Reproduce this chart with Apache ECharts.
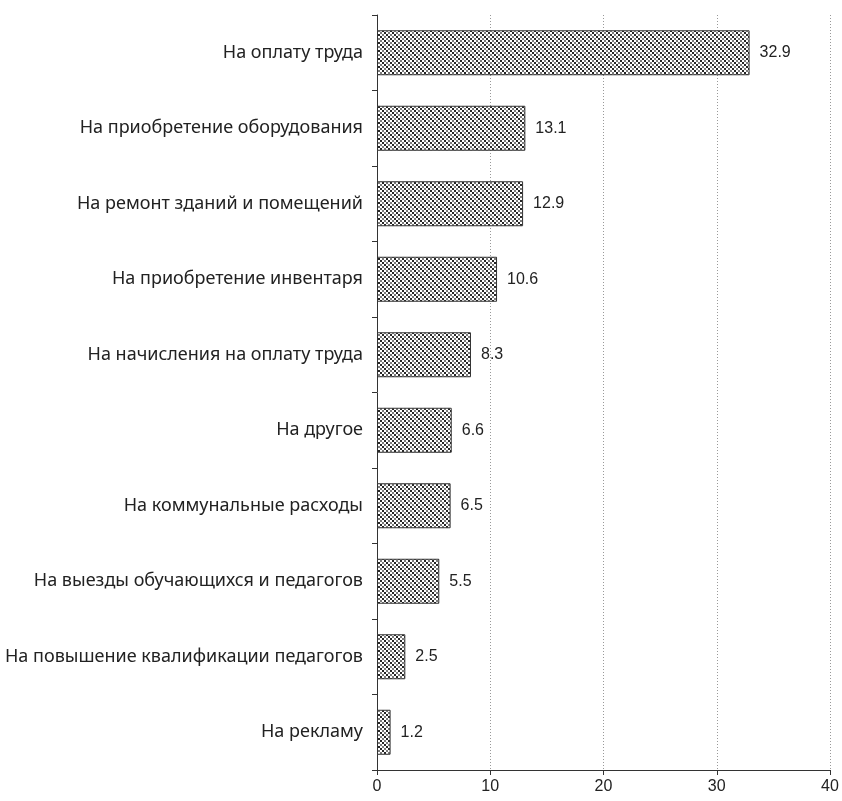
<!DOCTYPE html>
<html><head><meta charset="utf-8">
<script src="https://cdn.jsdelivr.net/npm/echarts@6/dist/echarts.min.js"></script>
<style>html,body{margin:0;padding:0;background:#fff}#c{width:842px;height:801px}</style>
</head><body><div id="c"></div>
<script>
const categories = [
  "На оплату труда",
  "На приобретение оборудования",
  "На ремонт зданий и помещений",
  "На приобретение инвентаря",
  "На начисления на оплату труда",
  "На другое",
  "На коммунальные расходы",
  "На выезды обучающихся и педагогов",
  "На повышение квалификации педагогов",
  "На рекламу"
];
const values = [32.9, 13.1, 12.9, 10.6, 8.3, 6.6, 6.5, 5.5, 2.5, 1.2];
const xTicks = [0, 10, 20, 30, 40];

function makePattern() {
  const c = document.createElement('canvas');
  c.width = 8; c.height = 8;
  const g = c.getContext('2d');
  g.fillStyle = '#ffffff'; g.fillRect(0, 0, 8, 8);
  const pts = [[0,0],[4,0],[0,4],[4,4],[2,2],[6,2],[2,6],[6,6]];
  g.fillStyle = '#7a7a7a';
  pts.forEach(p => g.fillRect(p[0], p[1], 2, 2));
  g.fillStyle = '#262626';
  [[0,0],[2,2],[4,4],[6,6]].forEach(p => g.fillRect(p[0], p[1], 2, 2));
  return c;
}

const chart = echarts.init(document.getElementById('c'), null, {renderer: 'canvas'});
chart.setOption({
  animation: false,
  backgroundColor: '#fff',
  grid: {left: 377, right: 12, top: 15, bottom: 31, containLabel: false},
  xAxis: {
    type: 'value', min: 0, max: 40, interval: 10,
    axisLine: {show: true, lineStyle: {color: '#333', width: 1}},
    axisTick: {show: true, length: 5, lineStyle: {color: '#333'}},
    axisLabel: {color: '#222', fontSize: 16, fontFamily: 'Liberation Sans Narrow, Liberation Sans, Arial', margin: 9,
      formatter: v => xTicks.includes(v) ? String(v) : ''},
    splitLine: {show: true, lineStyle: {color: '#999', type: [1, 2], width: 1}}
  },
  yAxis: {
    type: 'category', data: categories, inverse: true,
    axisLine: {show: true, lineStyle: {color: '#333', width: 1}},
    axisTick: {show: true, length: 5, lineStyle: {color: '#333'}},
    axisLabel: {color: '#222', fontSize: 18, fontFamily: 'Noto Sans, DejaVu Sans', margin: 14},
    splitLine: {show: false}
  },
  series: [{
    type: 'bar', data: values, barWidth: 45,
    itemStyle: {color: {image: makePattern(), repeat: 'repeat'}, borderColor: '#333', borderWidth: 1},
    label: {show: true, position: 'right', distance: 10, color: '#222', fontSize: 16,
      fontFamily: 'Liberation Sans Narrow, Liberation Sans, Arial',
      formatter: p => p.value.toFixed(1)}
  }]
});
</script></body></html>
